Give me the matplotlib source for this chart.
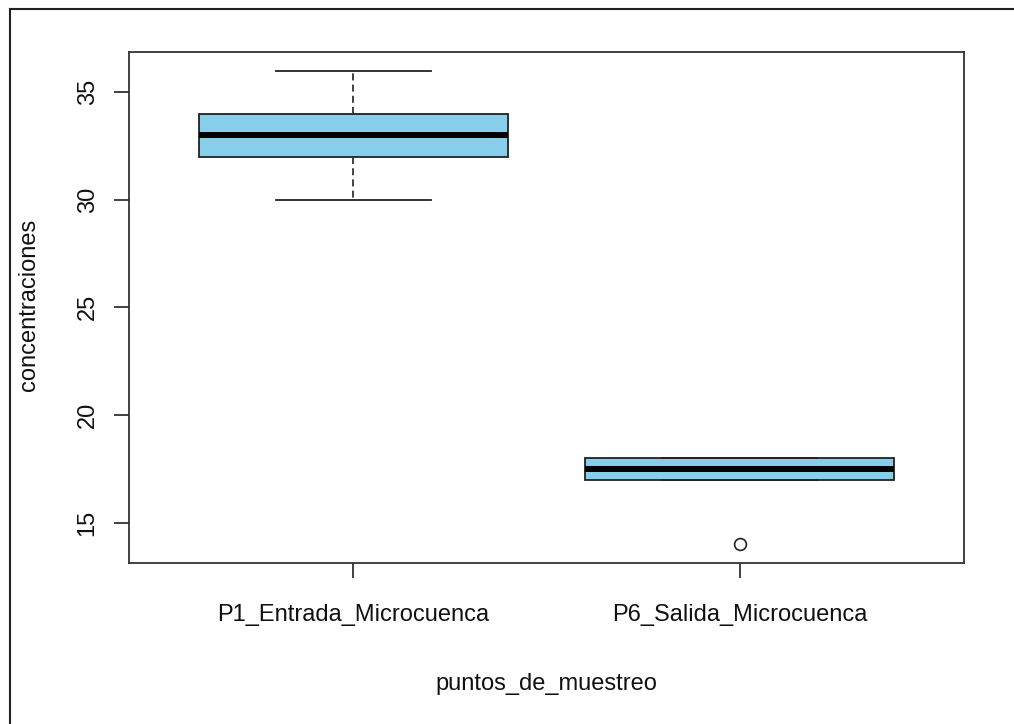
import matplotlib.pyplot as plt
from matplotlib.lines import Line2D

# Resumen de concentraciones por punto de muestreo
puntos = ["P1_Entrada_Microcuenca", "P6_Salida_Microcuenca"]
bigote_inf = [30, 17]
cuartil_1 = [32, 17]
medianas = [33, 17.5]
cuartil_3 = [34, 18]
bigote_sup = [36, 18]
atipicos = [[], [14]]

plt.rcParams['font.family'] = ['Liberation Sans', 'DejaVu Sans']
plt.rcParams['font.size'] = 17

W, H = 1014, 724
fig = plt.figure(figsize=(W / 100, H / 100), dpi=100)
ax = fig.add_axes([129 / W, 1 - 563 / H, (964 - 129) / W, (563 - 51.7) / H])

stats = []
for p, lo, a, m, b, hi, f in zip(puntos, bigote_inf, cuartil_1, medianas,
                                 cuartil_3, bigote_sup, atipicos):
    stats.append(dict(label=p, whislo=lo, q1=a, med=m, q3=b, whishi=hi, fliers=f))

ax.bxp(stats, positions=[1, 2], widths=0.8, capwidths=0.4, patch_artist=True,
       boxprops=dict(facecolor='#87CEEB', edgecolor='#222222', linewidth=1.3),
       medianprops=dict(color='black', linewidth=4.3, solid_capstyle='butt'),
       whiskerprops=dict(color='#333333', linewidth=1.3, linestyle=(0, (3.9, 2.3))),
       capprops=dict(color='#222222', linewidth=1.3),
       flierprops=dict(marker='o', markerfacecolor='none', markeredgecolor='#222222',
                       markersize=8.5, markeredgewidth=1.2))

ax.set_xlim(0.42, 2.58)
ax.set_ylim(13.12, 36.88)
ax.set_yticks([15, 20, 25, 30, 35])
ax.set_xticks([1, 2])
ax.set_xticklabels(puntos)

for s in ax.spines.values():
    s.set_color('#333333')
    s.set_linewidth(1.3)
ax.tick_params(length=10.8, width=1.3, color='#333333', labelcolor='#111111')
ax.tick_params(axis='y', labelrotation=90, pad=11)
ax.tick_params(axis='x', pad=18.5)
for t in ax.get_yticklabels():
    t.set_va('center')

ax.set_xlabel("puntos_de_muestreo", color='#111111')
ax.xaxis.set_label_coords((129 + 964) / 2 / W, 1 - 684 / H, transform=fig.transFigure)
ax.xaxis.label.set_va('center')
ax.set_ylabel("concentraciones", color='#111111')
ax.yaxis.set_label_coords(29.5 / W, 1 - 305 / H, transform=fig.transFigure)
ax.yaxis.label.set_va('center')

# marco exterior de la figura
fig.add_artist(Line2D([9.5 / W, 9.5 / W], [-0.1, 1 - 8.5 / H], transform=fig.transFigure,
                      color='#222222', linewidth=1.5))
fig.add_artist(Line2D([9.5 / W, 1.1], [1 - 8.5 / H, 1 - 8.5 / H], transform=fig.transFigure,
                      color='#222222', linewidth=1.5))

fig.savefig("out.png", dpi=100)
